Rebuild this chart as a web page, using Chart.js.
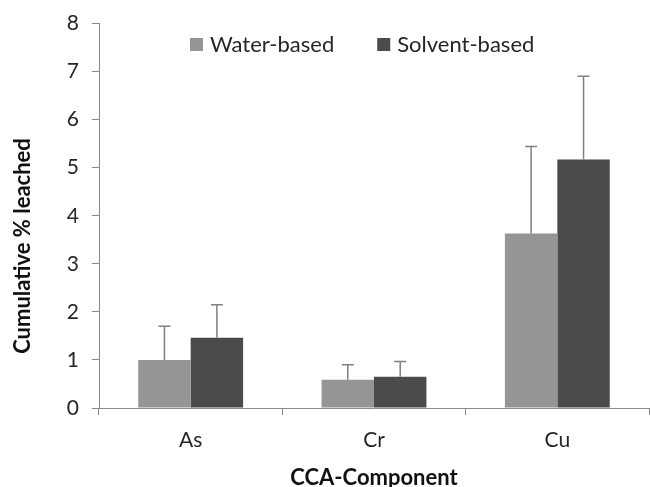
<!DOCTYPE html>
<html>
<head>
<meta charset="utf-8">
<script src="https://cdn.jsdelivr.net/npm/chart.js@4.4.1/dist/chart.umd.min.js"></script>
<style>
  html, body { margin: 0; padding: 0; background: #ffffff; }
  #wrap { width: 650px; height: 487px; }
</style>
</head>
<body>
<div id="wrap"><canvas id="c" width="650" height="487"></canvas></div>
<script>
// Cumulative leaching of CCA components by coating type
const categories = ['As', 'Cr', 'Cu'];
const seriesNames = ['Water-based', 'Solvent-based'];
const waterBased = [1.0, 0.59, 3.63];
const solventBased = [1.46, 0.65, 5.17];
const waterErr = [0.70, 0.31, 1.81];
const solventErr = [0.69, 0.32, 1.73];
const yTicks = [0, 1, 2, 3, 4, 5, 6, 7, 8];
const yTitle = 'Cumulative % leached';

const FONT = 'Lato, "Open Sans", sans-serif';
const AXIS_GRAY = '#8a8a8a';
const TEXT = '#262626';

// Upper error whiskers with caps
const errorBars = {
  id: 'errorBars',
  afterDatasetsDraw(chart) {
    const ctx = chart.ctx;
    const y = chart.scales.y;
    const errs = [waterErr, solventErr];
    ctx.save();
    ctx.strokeStyle = '#808080';
    ctx.lineWidth = 1.5;
    chart.data.datasets.forEach((ds, di) => {
      const meta = chart.getDatasetMeta(di);
      meta.data.forEach((bar, i) => {
        const top = y.getPixelForValue(ds.data[i]);
        const hi = y.getPixelForValue(ds.data[i] + errs[di][i]);
        ctx.beginPath();
        ctx.moveTo(bar.x, top);
        ctx.lineTo(bar.x, hi);
        ctx.moveTo(bar.x - 6, hi);
        ctx.lineTo(bar.x + 6, hi);
        ctx.stroke();
      });
    });
    ctx.restore();
  }
};

// Legend row inside the plot area, and the rotated value-axis title
const decorations = {
  id: 'decorations',
  afterDraw(chart) {
    const ctx = chart.ctx;
    const area = chart.chartArea;
    ctx.save();
    ctx.font = '22px ' + FONT;
    ctx.textBaseline = 'middle';
    ctx.textAlign = 'left';
    const box = 13, gapText = 7, gapItem = 43;
    const items = chart.data.datasets.map(ds => ({
      text: ds.label, color: ds.backgroundColor,
      w: box + gapText + ctx.measureText(ds.label).width
    }));
    let x = 190;
    const cy = area.top + 21;
    items.forEach(it => {
      ctx.fillStyle = it.color;
      ctx.fillRect(x, cy - box / 2, box, box);
      ctx.fillStyle = TEXT;
      ctx.fillText(it.text, x + box + gapText, cy);
      x += it.w + gapItem;
    });
    ctx.restore();

    ctx.save();
    ctx.translate(23, 246);
    ctx.rotate(-Math.PI / 2);
    ctx.font = 'bold 22px ' + FONT;
    ctx.fillStyle = '#111';
    ctx.textAlign = 'center';
    ctx.textBaseline = 'middle';
    ctx.fillText(yTitle, 0, 0);
    ctx.restore();
  }
};

new Chart(document.getElementById('c'), {
  type: 'bar',
  data: {
    labels: categories,
    datasets: [
      { label: seriesNames[0], data: waterBased, backgroundColor: '#959595', borderWidth: 0 },
      { label: seriesNames[1], data: solventBased, backgroundColor: '#4b4b4b', borderWidth: 0 }
    ]
  },
  options: {
    responsive: false,
    animation: false,
    devicePixelRatio: 1,
    layout: { padding: { top: 21, right: 1, left: 0, bottom: 0 } },
    datasets: { bar: { barPercentage: 1.0, categoryPercentage: 0.572 } },
    plugins: {
      legend: { display: false },
      tooltip: { enabled: false }
    },
    scales: {
      x: {
        afterFit(s) { s.height = 79; },
        grid: { display: true, drawOnChartArea: false, drawTicks: true, tickLength: 7, color: AXIS_GRAY, offset: true },
        border: { display: true, color: AXIS_GRAY, width: 1 },
        ticks: { color: TEXT, font: { family: FONT, size: 21 }, padding: 13 },
        title: {
          display: true, text: 'CCA-Component', color: '#111',
          font: { family: FONT, size: 22, weight: 'bold', lineHeight: 1.0 },
          padding: { top: 0, bottom: -2 }
        }
      },
      y: {
        min: 0, max: 8,
        afterFit(s) { s.width = 99; },
        afterBuildTicks(s) { s.ticks = yTicks.map(v => ({ value: v })); },
        grid: { display: true, drawOnChartArea: false, drawTicks: true, tickLength: 7, color: AXIS_GRAY },
        border: { display: true, color: AXIS_GRAY, width: 1 },
        ticks: { color: TEXT, font: { family: FONT, size: 21, lineHeight: 1.0 }, padding: 13 },
        title: { display: false }
      }
    }
  },
  plugins: [errorBars, decorations]
});
</script>
</body>
</html>
